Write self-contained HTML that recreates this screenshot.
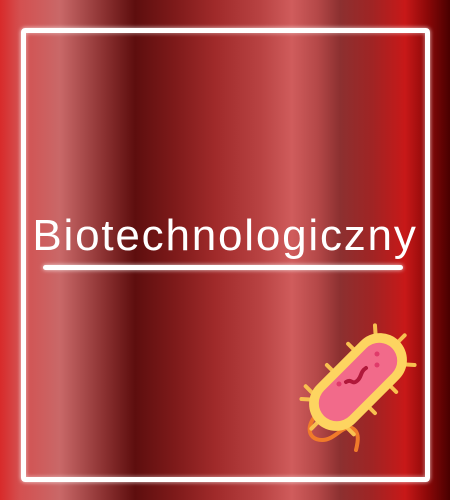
<!DOCTYPE html>
<html><head><meta charset="utf-8"><style>
html,body{margin:0;padding:0}
body{width:450px;height:500px;overflow:hidden;position:relative;
background:linear-gradient(90deg,#d82a2a 0px,#d45050 20px,#c96868 60px,#8a3030 105px,#5e0e0e 135px,#7e1a1a 175px,#a02a2a 215px,#b84242 260px,#d05c5c 292px,#b44848 318px,#8c3030 340px,#a02424 372px,#c81818 405px,#8a0808 428px,#4a0000 450px);
font-family:"Liberation Sans",sans-serif}
#frame{position:absolute;left:21px;top:28px;width:399px;height:444px;border:5px solid #fff;border-radius:4px;box-shadow:0 0 4px rgba(255,255,255,.8),inset 0 0 4px rgba(255,255,255,.6)}
#title{position:absolute;left:0;width:450px;top:211px;text-align:center;color:#fff;font-size:44px;font-weight:300;letter-spacing:1.8px}
#line{position:absolute;left:43px;top:265px;width:360px;height:5px;background:#fff;border-radius:3px;box-shadow:0 0 4px rgba(255,255,255,.8)}
</style></head><body>
<div id="frame"></div>
<div id="title">Biotechnologiczny</div>
<div id="line"></div>
<svg width="450" height="500" style="position:absolute;left:0;top:0">
<path d="M322 410 C305 422 306 440 322 440 C335 440 342 425 352 428 C360 432 358 442 356 450" fill="none" stroke="#f07a2a" stroke-width="4" stroke-linecap="round"/>
<g transform="translate(358,382) rotate(-45)" stroke="#f8c050" stroke-width="4" stroke-linecap="round">
<line x1="-40" y1="-26" x2="-40" y2="-34"/><line x1="-10" y1="-26" x2="-10" y2="-34"/><line x1="20" y1="-26" x2="20" y2="-34"/>
<line x1="-40" y1="26" x2="-40" y2="34"/><line x1="-10" y1="26" x2="-10" y2="34"/><line x1="20" y1="26" x2="20" y2="34"/>
<line x1="-58" y1="0" x2="-66" y2="0"/><line x1="58" y1="0" x2="66" y2="0"/>
<line x1="45" y1="-20" x2="52" y2="-28"/><line x1="45" y1="20" x2="52" y2="28"/>
<line x1="-45" y1="-20" x2="-52" y2="-28"/>
<rect x="-58" y="-27" width="116" height="54" rx="27" fill="#fdd460" stroke="none"/>
<rect x="-48" y="-18" width="96" height="36" rx="18" fill="#f26a8a" stroke="none"/>
</g>
<path d="M346 382 C352 378 352 386 358 380 C362 376 360 372 366 368" fill="none" stroke="#b0183a" stroke-width="4" stroke-linecap="round"/>
<circle cx="339" cy="384" r="2.5" fill="#e03a6a"/><circle cx="377" cy="354" r="2.5" fill="#e03a6a"/><circle cx="377" cy="365" r="2.5" fill="#e03a6a"/>
</svg>
</body></html>
